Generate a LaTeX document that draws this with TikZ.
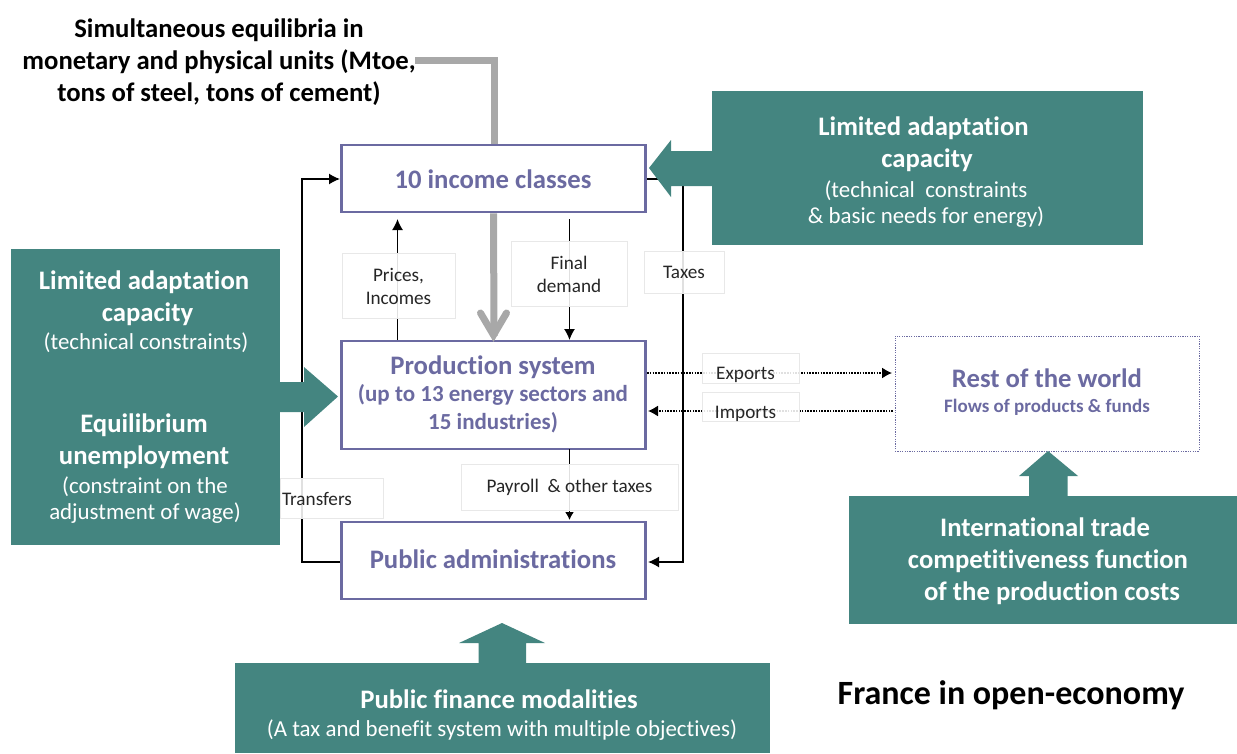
\documentclass[tikz,border=0pt]{standalone}
\usepackage{fontspec}
\setmainfont{Carlito}[Ligatures=NoCommon]
\usetikzlibrary{arrows.meta,calc}
\definecolor{teal1}{HTML}{448580}
\definecolor{purp}{HTML}{6B6AA1}
\definecolor{grayarrow}{HTML}{A8A8A8}
\definecolor{framegray}{HTML}{E8E8E8}
\tikzset{
  x=1pt,y=-1pt,
  mainbox/.style={draw=purp,line width=2.6pt,fill=white,minimum width=304pt,align=center,text=purp,inner sep=0pt,font=\fontsize{26.7}{30}\selectfont\bfseries},
  boxtext/.style={text=purp,inner sep=0pt,align=center,font=\fontsize{26.7}{30}\selectfont\bfseries},
  tealbox/.style={fill=teal1,inner sep=0pt,text=white},
  tealhead/.style={text=white,align=center,inner sep=0pt,font=\fontsize{26.7}{32}\selectfont\bfseries},
  tealsub/.style={text=white,align=center,inner sep=0pt,font=\fontsize{22.9}{26}\selectfont},
  blockarrow/.style={fill=teal1,draw=none},
  labelbox/.style={draw=framegray,line width=.7pt,fill=white,fill opacity=.88,text opacity=1,text=black!85,align=center,inner sep=0pt,font=\fontsize{19.2}{23}\selectfont},
  conn/.style={draw=black,line width=1.5pt,-{Latex[length=11pt,width=11pt]}},
  connshort/.style={draw=black,line width=1.5pt,-{Latex[length=8pt,width=9pt]}},
  dotconn/.style={draw=black,line width=1.4pt,dash pattern=on 1.6pt off 1.2pt,-{Latex[length=10pt,width=11pt]}},
  grayline/.style={draw=grayarrow,line width=7pt},
}
\begin{document}
\begin{tikzpicture}
\useasboundingbox (0,0) rectangle (1237,753);

% coordinates for free ends
\coordinate (grayStart) at (415,60);
\coordinate (pricesEnd) at (397.5,219);
\coordinate (finalStart) at (569.5,219);

\node[mainbox,minimum height=67pt] (income) at (493.5,178.5) {};
\node[mainbox,minimum height=108pt] (prod) at (493.5,395) {};
\node[mainbox,minimum height=77pt] (pub) at (493.5,560.5) {};
\node[draw=purp,line width=1pt,dash pattern=on 1.2pt off 1.2pt,minimum width=304pt,minimum height=115pt,inner sep=0pt] (rest) at (1047,393.5) {};

\coordinate (pricesBase) at (397.5,340);
\coordinate (finalEnd) at (569.5,340);
\coordinate (payStart) at (569.5,449);
\coordinate (payEnd) at (569.5,520);
\coordinate (expStart) at (647,373);
\coordinate (expEnd) at (892,373);
\coordinate (impStart) at (893,411);
\coordinate (impEnd) at (648,411);
\coordinate (pubL) at (340,562);
\coordinate (pubR) at (648,562);
\coordinate (incL) at (340,179);
\coordinate (incR) at (647,179);

\draw[conn] (pubL) -- (302,562) -- (302,179) -- (incL);
\draw[conn] (incR) -- (683,179) -- (683,562) -- (pubR);
\draw[conn] (pricesBase) -- (pricesEnd);
\draw[conn] (finalStart) -- (finalEnd);
\draw[connshort] (payStart) -- (payEnd);
\draw[dotconn] (expStart) -- (expEnd);
\draw[dotconn] (impStart) -- (impEnd);

% grey arrow
\draw[grayline] (grayStart) -- (494,60) -- (494,144);
\draw[grayline] (income.south) -- (494,336);
\draw[grayline,line cap=round] (480.5,313) -- (493.5,335) -- (506.5,313);

% text in boxes
\node[boxtext] (incT) at (493,179) {10 income classes};
\node[boxtext] (prodT) at (493,367) {Production system};
\node[boxtext,font=\fontsize{23}{28}\selectfont\bfseries] (prodS) at (493,408.5) {(up to 13 energy sectors and\\15 industries)};
\node[boxtext] (pubT) at (493,559) {Public administrations};
\node[boxtext] (restT) at (1047,378) {Rest of the world};
\node[boxtext,font=\fontsize{19}{20}\selectfont\bfseries] (restS) at (1047,407) {Flows of products \& funds};

% labels
\node[labelbox,minimum width=113pt,minimum height=65pt] (lprices) at (398.5,286) {Prices,\\Incomes};
\node[labelbox,minimum width=116pt,minimum height=65pt] (lfinal) at (569,274) {Final\\demand};
\node[labelbox,minimum width=80pt,minimum height=42pt] (ltaxes) at (684,272) {Taxes};
\node[labelbox,minimum width=103pt,minimum height=40pt,text width=103pt,align=left] (ltransfers) at (331.5,498.5) {\hspace{2pt}Transfers};
\node[labelbox,minimum width=217pt,minimum height=46pt] (lpayroll) at (569.5,487.5) {Payroll~ \& other taxes};
\node[labelbox,minimum width=97pt,minimum height=30pt] (lexports) at (750.5,368) {\smash{\hspace*{-10pt}\raisebox{-11pt}{Exports}}};
\node[labelbox,minimum width=97pt,minimum height=29pt] (limports) at (750.5,406.5) {\smash{\hspace*{-10pt}\raisebox{-11.5pt}{Imports}}};

% teal boxes
\fill[blockarrow] (649,168) -- (671,140) -- (671,151) -- (712,151) -- (712,186) -- (671,186) -- (671,197) -- cycle;
\node[tealbox,minimum width=431pt,minimum height=154pt] (tr) at (927.5,168) {};
\node[tealhead] (trH) at (923.5,144.5) {Limited adaptation\\\hspace*{7pt}capacity};
\node[tealsub] (trS) at (926,204) {(technical~ constraints\\\& basic needs for energy)};

\fill[blockarrow] (338,396.5) -- (304,367) -- (304,382) -- (280,382) -- (280,412) -- (304,412) -- (304,427) -- cycle;
\node[tealbox,minimum width=269pt,minimum height=296pt] (tl) at (145.5,397) {};
\node[tealhead] (tlH1) at (144,298.5) {Limited adaptation\\\hspace*{7pt}capacity};
\node[tealsub] (tlS1) at (146,343) {(technical constraints)};
\node[tealhead] (tlH2) at (144,441) {Equilibrium\\unemployment};
\node[tealsub] (tlS2) at (145,500) {(constraint on the\\adjustment of wage)};

\fill[blockarrow] (1048,451) -- (1019,476) -- (1029,476) -- (1029,496) -- (1067.5,496) -- (1067.5,476) -- (1078,476) -- cycle;
\node[tealbox,minimum width=388pt,minimum height=128pt] (tb) at (1043,560) {};
\node[tealhead] (tbH) at (1048,561.5) {International trade\hspace*{6pt}\\competitiveness function\\\hspace*{8pt}of the production costs};

\fill[blockarrow] (502,623) -- (459,643) -- (478.5,643) -- (478.5,663) -- (526,663) -- (526,643) -- (545,643) -- cycle;
\node[tealbox,minimum width=535pt,minimum height=90pt] (bb) at (502.5,708) {};
\node[tealhead] (bbH) at (499,699) {Public finance modalities};
\node[tealsub] (bbS) at (502,730) {(A tax and benefit system with multiple objectives)};

% black titles
\node[inner sep=0pt,align=center,font=\fontsize{26.7}{32}\selectfont\bfseries] (topT) at (219,62) {Simultaneous equilibria in\\monetary and physical units (Mtoe,\\tons of steel, tons of cement)};
\node[inner sep=0pt,font=\fontsize{34}{38}\selectfont\bfseries] (franceT) at (1011,695) {France in open-economy};
\end{tikzpicture}
\end{document}
